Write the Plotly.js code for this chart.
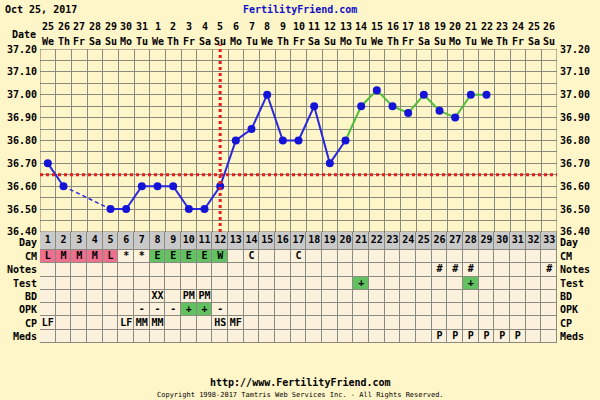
<!DOCTYPE html>
<html><head><meta charset="utf-8">
<script src="https://cdn.plot.ly/plotly-3.0.1.min.js"></script>
<style>html,body{margin:0;padding:0;background:#fef5c8;}</style>
</head><body><div id="chart" style="width:600px;height:400px;"></div>
<script>
// ---------- data ----------
const days = [1,2,3,4,5,6,7,8,9,10,11,12,13,14,15,16,17,18,19,20,21,22,23,24,25,26,27,28,29,30,31,32,33];
const dateNums = ['25','26','27','28','29','30','31','1','2','3','4','5','6','7','8','9','10','11','12','13','14','15','16','17','18','19','20','21','22','23','24','25','26'];
const weekdays = ['We','Th','Fr','Sa','Su','Mo','Tu','We','Th','Fr','Sa','Su','Mo','Tu','We','Th','Fr','Sa','Su','Mo','Tu','We','Th','Fr','Sa','Su','Mo','Tu','We','Th','Fr','Sa','Su'];
const temps = [36.70,36.60,null,null,36.50,36.50,36.60,36.60,36.60,36.50,36.50,36.60,36.80,36.85,37.00,36.80,36.80,36.95,36.70,36.80,36.95,37.02,36.95,36.92,37.00,36.93,36.90,37.00,37.00,null,null,null,null];
const coverline = 36.65;
const ovulationDay = 12;
const greenFromDay = 20;
const tempTicks = [36.40,36.50,36.60,36.70,36.80,36.90,37.00,37.10,37.20];

const rowNames = ['Meds','CP','OPK','BD','Test','Notes','CM','Day'];
const cm    = ['L','M','M','M','L','*','*','E','E','E','E','W','','C','','','C','','','','','','','','','','','','','','','',''];
const notes = ['','','','','','','','','','','','','','','','','','','','','','','','','','#','#','#','','','','','#'];
const test  = ['','','','','','','','','','','','','','','','','','','','','+','','','','','','','+','','','','',''];
const bd    = ['','','','','','','','XX','','PM','PM','','','','','','','','','','','','','','','','','','','','','',''];
const opk   = ['','','','','','','-','-','-','+','+','-','','','','','','','','','','','','','','','','','','','','',''];
const cp    = ['LF','','','','','LF','MM','MM','','','','HS','MF','','','','','','','','','','','','','','','','','','','',''];
const meds  = ['','','','','','','','','','','','','','','','','','','','','','','','','','P','P','P','P','P','P','',''];

// ---------- style ----------
const F = 'DejaVu Sans Mono';
const bold = {family: F, size: 10, color: '#000', weight: 'bold'};
const BG = '#fef5c8', CREAM = '#fbf1dc', PINK = '#ee6f8e', GREEN = '#62c262', GRAYROW = '#c9c9c9', GRID = '#8a8a80';
const tempDom = 0.3776;

function code(row, v) {
  if (row === 'Day') return 3;
  if (row === 'CM') { if (['L','M','H'].includes(v)) return 1; if (['E','W'].includes(v)) return 2; }
  if ((row === 'OPK' || row === 'Test') && v === '+') return 2;
  return 0;
}
const rowData = {Meds: meds, CP: cp, OPK: opk, BD: bd, Test: test, Notes: notes, CM: cm, Day: days.map(String)};
const z = rowNames.map(r => rowData[r].map(v => code(r, v)));
const yEdges = [0,1,2,3,4,5,6,7,8.35];
const rowCenters = [0.5,1.5,2.5,3.5,4.5,5.5,6.5,7.675];
const labelPos = [0.5,1.5,2.5,3.5,4.5,5.5,6.5,7.55];

// cell texts
const cx = [], cy = [], ct = [];
rowNames.forEach((r, ri) => rowData[r].forEach((v, i) => { if (v !== '') { cx.push(days[i]); cy.push(rowCenters[ri]); ct.push(v); } }));

// temperature segments
const blueY = temps.map((t, i) => days[i] <= greenFromDay ? t : null);
const greenY = temps.map((t, i) => days[i] >= greenFromDay ? t : null);
const dashX = [], dashY = [];
for (let i = 1; i < temps.length; i++) {
  if (temps[i] === null && temps[i-1] !== null) {
    let j = i; while (j < temps.length && temps[j] === null) j++;
    if (j < temps.length) { dashX.push(days[i-1], days[j], null); dashY.push(temps[i-1], temps[j], null); }
  }
}

const traces = [
  {type: 'heatmap', x: days, y: yEdges, z: z,
   xaxis: 'x', yaxis: 'y2', zmin: 0, zmax: 3, showscale: false, hoverinfo: 'skip', xgap: 1, ygap: 1,
   colorscale: [[0, CREAM],[0.16, CREAM],[0.17, PINK],[0.5, PINK],[0.5, GREEN],[0.83, GREEN],[0.84, GRAYROW],[1, GRAYROW]]},
  {type: 'scatter', mode: 'text', x: cx, y: cy, text: ct, xaxis: 'x', yaxis: 'y2',
   textfont: {family: F, size: 10, color: '#000', weight: 'bold'}, textposition: 'middle center', hoverinfo: 'skip'},
  {type: 'scatter', mode: 'lines', x: dashX, y: dashY, xaxis: 'x', yaxis: 'y',
   line: {color: 'rgb(40,40,220)', width: 1.5, dash: '4px,3px'}, hoverinfo: 'skip'},
  {type: 'scatter', mode: 'lines', x: days, y: blueY, xaxis: 'x', yaxis: 'y',
   line: {color: 'rgb(40,40,220)', width: 2}, connectgaps: false, hoverinfo: 'skip'},
  {type: 'scatter', mode: 'lines', x: days, y: greenY, xaxis: 'x', yaxis: 'y',
   line: {color: 'rgb(80,190,60)', width: 2}, connectgaps: false, hoverinfo: 'skip'},
  {type: 'scatter', mode: 'markers', x: days, y: temps, xaxis: 'x', yaxis: 'y',
   marker: {color: 'rgb(20,20,215)', size: 8}, hoverinfo: 'skip'},
  {type: 'scatter', mode: 'markers', x: [1], y: [36.8], xaxis: 'x', yaxis: 'y3', marker: {opacity: 0}, hoverinfo: 'skip'},
  {type: 'scatter', mode: 'markers', x: [1], y: [1], xaxis: 'x', yaxis: 'y4', marker: {opacity: 0}, hoverinfo: 'skip'}
];

const annotations = [];
days.forEach((d, i) => {
  annotations.push({x: d, xref: 'x', y: 1.078, yref: 'paper', text: dateNums[i], showarrow: false, font: bold, xanchor: 'center', yanchor: 'middle'});
  annotations.push({x: d, xref: 'x', y: 1.027, yref: 'paper', text: weekdays[i], showarrow: false, font: bold, xanchor: 'center', yanchor: 'middle'});
});
annotations.push({x: -0.004, xref: 'paper', y: 1.051, yref: 'paper', text: 'Date', showarrow: false, font: bold, xanchor: 'right', yanchor: 'middle'});
annotations.push({x: -0.0716, xref: 'paper', y: 1.136, yref: 'paper', text: 'Oct 25, 2017', showarrow: false, font: bold, xanchor: 'left', yanchor: 'middle'});
annotations.push({x: 0.503, xref: 'paper', y: 1.136, yref: 'paper', text: 'FertilityFriend.com', showarrow: false, font: {family: F, size: 10, color: '#1010c8', weight: 'bold'}, xanchor: 'center', yanchor: 'middle'});
annotations.push({x: 0.503, xref: 'paper', y: -0.136, yref: 'paper', text: 'http://www.FertilityFriend.com', showarrow: false, font: bold, xanchor: 'center', yanchor: 'middle'});
annotations.push({x: 0.503, xref: 'paper', y: -0.177, yref: 'paper', text: 'Copyright 1998-2017 Tamtris Web Services Inc. - All Rights Reserved.', showarrow: false, font: {family: F, size: 7, color: '#000'}, xanchor: 'center', yanchor: 'middle'});

const tempText = tempTicks.map(v => v.toFixed(2));
const layout = {
  width: 600, height: 400,
  margin: {l: 40, r: 43, t: 49, b: 57},
  paper_bgcolor: BG, plot_bgcolor: BG,
  showlegend: false,
  xaxis: {range: [0.5, 33.5], anchor: 'y2', tickmode: 'array', tickvals: days.map(d => d - 0.5).concat([33.5]),
          showticklabels: false, ticks: '', showgrid: true, gridcolor: GRID, gridwidth: 1, zeroline: false, showline: false, fixedrange: true},
  yaxis: {domain: [tempDom, 1], range: [36.4, 37.2], tickmode: 'array', tickvals: tempTicks, ticktext: tempText,
          tickfont: bold, ticks: '', showgrid: true, gridcolor: GRID, gridwidth: 1,
          minor: {dtick: 0.05, tick0: 36.4, showgrid: true, gridcolor: GRID, gridwidth: 1, ticks: ''},
          zeroline: false, showline: false, ticklabelstandoff: 2},
  yaxis3: {overlaying: 'y', side: 'right', range: [36.4, 37.2], tickmode: 'array', tickvals: tempTicks, ticktext: tempText,
           tickfont: bold, ticks: '', showgrid: false, zeroline: false, showline: false, ticklabelstandoff: 2},
  yaxis2: {domain: [0, tempDom], range: [0, 8.35], tickmode: 'array', tickvals: labelPos, ticktext: rowNames,
           tickfont: bold, ticks: '', showgrid: false, zeroline: false, showline: false, ticklabelstandoff: 2},
  yaxis4: {overlaying: 'y2', side: 'right', range: [0, 8.35], tickmode: 'array', tickvals: labelPos, ticktext: rowNames,
           tickfont: bold, ticks: '', showgrid: false, zeroline: false, showline: false, ticklabelstandoff: 2},
  shapes: [
    {type: 'rect', xref: 'x', yref: 'y2', x0: 0.5, x1: 33.5, y0: 0, y1: 8.35, fillcolor: GRID, line: {width: 0}, layer: 'below'},
    {type: 'rect', xref: 'x', yref: 'y', x0: 0.5, x1: 33.5, y0: 36.4, y1: 37.2, fillcolor: 'rgba(0,0,0,0)', line: {color: '#707068', width: 1}, layer: 'above'},
    {type: 'line', xref: 'x', yref: 'y', x0: 0.5, x1: 33.5, y0: coverline, y1: coverline, line: {color: 'rgb(230,30,30)', width: 3, dash: 'dot'}, layer: 'above'},
    {type: 'line', xref: 'x', yref: 'paper', x0: ovulationDay, x1: ovulationDay, y0: tempDom, y1: 1.015, line: {color: 'rgb(230,30,30)', width: 3, dash: 'dot'}, layer: 'above'}
  ],
  annotations: annotations
};
Plotly.newPlot('chart', traces, layout, {staticPlot: true, displayModeBar: false});
</script></body></html>
